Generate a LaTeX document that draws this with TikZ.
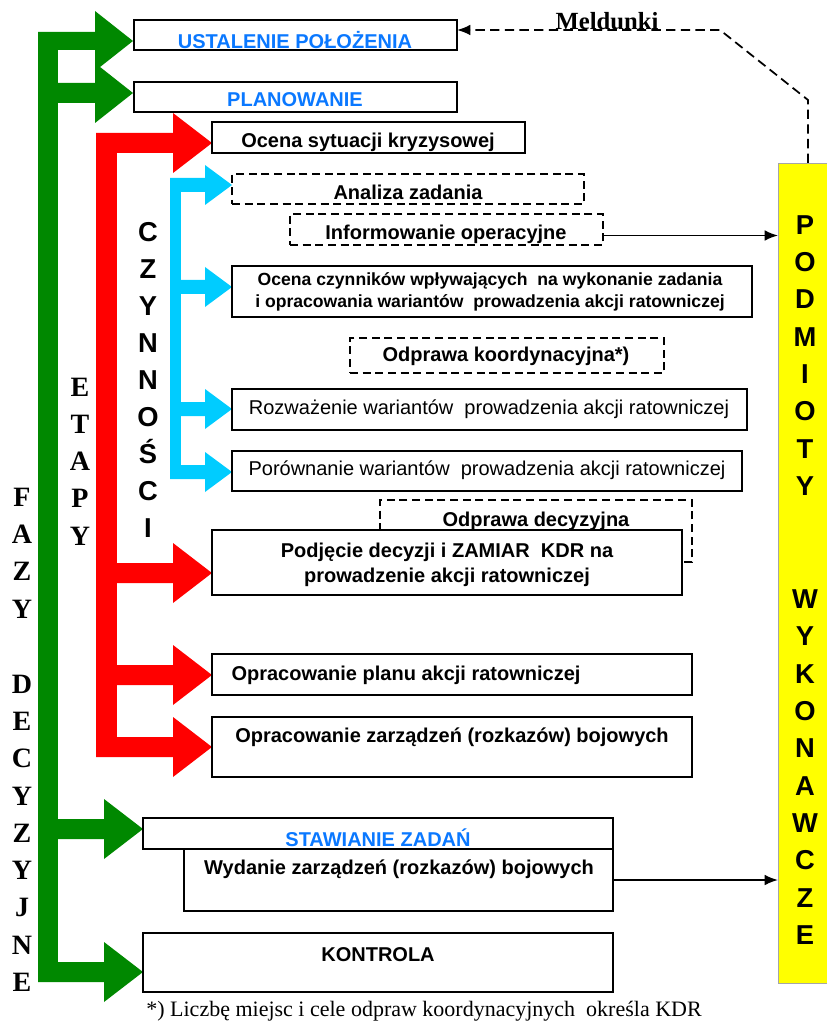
\documentclass[tikz,border=0pt]{standalone}
\usepackage{fontspec}
\setmainfont{Liberation Serif}
\setsansfont{Liberation Sans}
\usetikzlibrary{fit,arrows.meta}

\definecolor{fgreen}{RGB}{0,136,0}
\definecolor{fred}{RGB}{255,0,0}
\definecolor{fcyan}{RGB}{0,204,255}
\definecolor{fblue}{RGB}{10,120,255}
\definecolor{fyellow}{RGB}{255,255,0}

% thick block arrow: colour, x start, x head base, x tip, y centre, half shaft, half head
\newcommand\blockarrow[7]{%
  \fill[#1] (#2,#5-#6) -- (#3,#5-#6) -- (#3,#5-#7) -- (#4,#5)
            -- (#3,#5+#7) -- (#3,#5+#6) -- (#2,#5+#6) -- cycle;}

% rectangle node spanning two corners
\newcommand\cornerbox[6]{\node[#6, fit={(#2,#3) (#4,#5)}] (#1) {};}

\tikzset{
  box/.style={draw, line width=1.5pt, fill=white, inner sep=0pt, outer sep=0pt},
  dbox/.style={draw, line width=1.3pt, dash pattern=on 6pt off 3.5pt, inner sep=0pt, outer sep=0pt},
  ybox/.style={draw=black!35, line width=0.6pt, fill=fyellow, inner sep=0pt, outer sep=0pt},
  phase/.style={font=\sffamily\bfseries\fontsize{15}{18}\selectfont, text=fblue, inner sep=0pt},
  btxt/.style={font=\sffamily\bfseries\fontsize{15}{18}\selectfont, inner sep=0pt, align=center},
  stxt/.style={font=\sffamily\bfseries\fontsize{13.2}{16}\selectfont, inner sep=0pt, align=center},
  rtxt/.style={font=\sffamily\fontsize{15}{18}\selectfont, inner sep=0pt},
  serifcol/.style={font=\bfseries\fontsize{21}{21}\selectfont, inner sep=0pt, text height=13.9pt, text depth=0pt},
  sanscol/.style={font=\sffamily\bfseries\fontsize{20.5}{20.5}\selectfont, inner sep=0pt, text height=14.7pt, text depth=0pt},
  link/.style={line width=1.3pt, -{Latex[length=10pt,width=8pt]}},
  report/.style={line width=1.3pt, dash pattern=on 7pt off 4pt, -{Latex[length=10pt,width=8pt]}},
}

\begin{document}
\begin{tikzpicture}[x=0.75pt,y=-0.75pt]
\useasboundingbox (0,0) rectangle (826,1023);

% --- green arrows: phases
\fill[fgreen] (38,32) rectangle (58,982);
\blockarrow{fgreen}{38}{95}{133}{41}{9}{30}
\blockarrow{fgreen}{38}{95}{133}{93}{10}{30}
\blockarrow{fgreen}{38}{104}{143}{829}{10}{30}
\blockarrow{fgreen}{38}{104}{143}{972}{10}{30}

% --- red arrows: stages
\fill[fred] (96,133) rectangle (117,757);
\blockarrow{fred}{96}{173}{212}{143}{10}{30}
\blockarrow{fred}{96}{173}{212}{573}{10}{30}
\blockarrow{fred}{96}{173}{212}{675}{10}{30}
\blockarrow{fred}{96}{173}{212}{747}{10}{30}

% --- cyan arrows: activities
\fill[fcyan] (170,178) rectangle (181,479);
\blockarrow{fcyan}{170}{205}{232}{185}{7}{20}
\blockarrow{fcyan}{170}{205}{232}{287}{7}{20}
\blockarrow{fcyan}{170}{205}{232}{409}{7}{20}
\blockarrow{fcyan}{170}{205}{232}{472}{7}{20}

% --- boxes
\cornerbox{ust}{134}{20}{457}{50}{box}
\cornerbox{plan}{134}{82}{457}{112}{box}
\cornerbox{ocena}{212}{122}{525}{153}{box}
\cornerbox{anal}{232}{174}{584}{204}{dbox}
\cornerbox{info}{290}{214}{603}{245}{dbox}
\cornerbox{czyn}{232}{266}{752}{317}{box}
\cornerbox{koord}{350}{338}{664}{373}{dbox}
\cornerbox{rozw}{232}{389}{747}{430}{box}
\cornerbox{porow}{232}{451}{742}{491}{box}
\cornerbox{decyz}{380}{500}{692}{562}{dbox}
\cornerbox{podj}{212}{530}{682}{595}{box}
\cornerbox{planak}{212}{654}{692}{695}{box}
\cornerbox{zarz}{212}{717}{692}{777}{box}
\cornerbox{staw}{143}{818}{613}{849}{box}
\cornerbox{wyd}{184}{849}{613}{911}{box}
\cornerbox{kontr}{143}{933}{613}{992}{box}
\cornerbox{yel}{778}{163}{827}{983}{ybox}

% --- box texts
\node[phase] (t-ust) at (295,40) {USTALENIE POŁOŻENIA};
\node[phase] (t-plan) at (295,100) {PLANOWANIE};
\node[btxt] (t-ocena) at (368,142) {Ocena sytuacji kryzysowej};
\node[btxt] (t-anal) at (408,192) {Analiza zadania};
\node[btxt] (t-info) at (446,234) {Informowanie operacyjne};
\node[stxt] (t-czyn) at (490,292) {Ocena czynników wpływających\ \ na wykonanie zadania\\i opracowania wariantów\ \ prowadzenia akcji ratowniczej};
\node[btxt] (t-koord) at (506,356) {Odprawa koordynacyjna*)};
\node[rtxt] (t-rozw) at (489,409) {Rozważenie wariantów\ \ prowadzenia akcji ratowniczej};
\node[rtxt] (t-porow) at (487,470) {Porównanie wariantów\ \ prowadzenia akcji ratowniczej};
\node[btxt] (t-decyz) at (536,521) {Odprawa decyzyjna};
\node[btxt, font=\sffamily\bfseries\fontsize{15}{19}\selectfont] (t-podj) at (447,565) {Podjęcie decyzji i ZAMIAR\ \ KDR na\\prowadzenie akcji ratowniczej};
\node[btxt] (t-planak) at (406,675) {Opracowanie planu akcji ratowniczej};
\node[btxt] (t-zarz) at (452,737) {Opracowanie zarządzeń (rozkazów) bojowych};
\node[phase] (t-staw) at (378,838) {STAWIANIE ZADAŃ};
\node[btxt] (t-wyd) at (399,869) {Wydanie zarządzeń (rozkazów) bojowych};
\node[btxt] (t-kontr) at (378,955) {KONTROLA};

% --- connectors to the executing units
\draw[link] ([yshift=-4.5pt]info.east) -- ([yshift=-4.5pt]info.east -| yel.west);
\draw[link] (wyd.east) -- (wyd.east -| yel.west);

% --- reports back to position fixing
\coordinate (m1) at (808,100);
\coordinate (m2) at (720,30);
\draw[report] (m1 |- yel.north) -- (m1) -- (m2) -- (m2 -| ust.east);
\node[font=\bfseries\fontsize{18.5}{18.5}\selectfont, anchor=base, inner sep=0pt] (meld) at (607,30) {Meldunki};

% --- vertical captions
\foreach \c/\y [count=\i] in {F/497,A/534,Z/571,Y/609,D/684,E/721,C/758,Y/796,Z/833,Y/870,J/907,N/945,E/982}
  \node[serifcol] (faz\i) at (22,\y) {\c};
\foreach \c/\y [count=\i] in {E/387,T/424,A/461,P/498,Y/536}
  \node[serifcol] (eta\i) at (80,\y) {\c};
\foreach \c/\y [count=\i] in {C/232,Z/269,Y/306,N/343,N/380,O/417,Ś/454,C/491,I/528}
  \node[sanscol] (czy\i) at (148,\y) {\c};
\foreach \c/\y [count=\i] in {P/225,O/262,D/299,M/337,I/374,O/411,T/449,Y/486,W/599,Y/636,K/674,O/711,N/748,A/786,W/823,C/860,Z/898,E/935}
  \node[sanscol] (pod\i) at (805,\y) {\c};

% --- footnote
\node[font=\fontsize{16.5}{19}\selectfont, inner sep=0pt] (foot) at (424,1011) {*) Liczbę miejsc i cele odpraw koordynacyjnych\ \ określa KDR};
\end{tikzpicture}
\end{document}
